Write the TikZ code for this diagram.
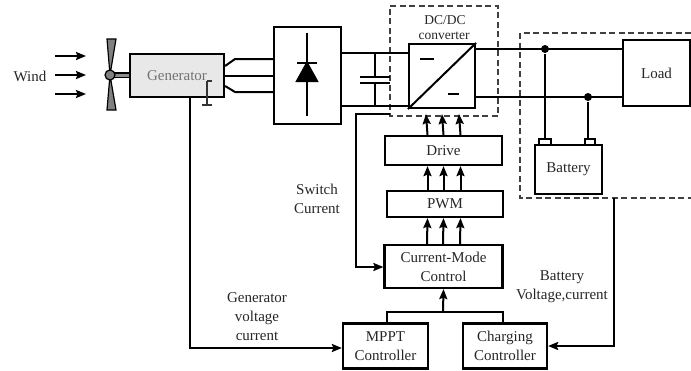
\documentclass[tikz,border=0pt]{standalone}
\usepackage{fontspec}
\setmainfont{Liberation Serif}
\usetikzlibrary{arrows.meta}
\begin{document}
\begin{tikzpicture}[x=1pt, y=-1pt, >={Stealth[length=10pt,width=8pt,inset=1.5pt]}, line width=2pt,
    main/.style = {draw, line width=2.2pt, rectangle, inner sep=0pt, align=center, text=black!85, font=\fontsize{15}{19}\selectfont},
    label/.style = {inner sep=0pt, align=center, text=black!85, font=\fontsize{15}{19}\selectfont},
    small/.style = {inner sep=0pt, align=center, text=black!85, font=\fontsize{13.5}{16}\selectfont},
    frame/.style = {dash pattern=on 6pt off 3.5pt, line width=1.3pt, draw=black!75},
    dot/.style = {circle, fill=black, inner sep=0pt, minimum size=8pt}]
    \useasboundingbox (0,0) rectangle (691,370);
    % dashed frames
    \draw[frame] (390,6) -- (498,6) -- (498,116) -- (390,116) -- cycle;
    \draw[frame] (691,33) -- (520,33) -- (520,198) -- (691,198);
    % wind and fan
    \node[label] (wind) at (30,76) {Wind};
    \foreach \y in {56,75,94}
        \draw[->] (55,\y) -- (86,\y);
    \node[main, fill=black!9, minimum width=94pt, minimum height=43pt, text=black!55] (gen) at (177,75.5) {Generator};
    \coordinate (hub) at (110,75);
    \draw[fill=black!50, line width=1.2pt] (hub) -- (107,39) -- (116,39) -- cycle;
    \draw[fill=black!50, line width=1.2pt] (hub) -- (107,110) -- (116,110) -- cycle;
    \draw[fill=black!45, line width=1.2pt] (110,73) rectangle (130,77.5);
    \node[circle, draw, fill=black!50, line width=1.2pt, inner sep=0pt, minimum size=10pt] (fan) at (hub) {};
    \draw[line width=1.2pt, black!80] (207,81) -- (212,81) (207,81) -- (207,105) (202,105) -- (212,105);
    % power path
    \node[main, minimum width=67pt, minimum height=97pt] (rect) at (307.5,75.5) {};
    \node[main, minimum width=66pt, minimum height=64pt] (conv) at (442,76) {};
    \node[main, minimum width=67pt, minimum height=66pt] (load) at (656.5,73) {Load};
    \node[main, minimum width=67pt, minimum height=49pt] (batt) at (568.5,169.5) {Battery};
    \node[small] (dcdc) at (445,20) {DC/DC};
    \node[small] (convtext) at (444,36) {converter};
    \draw ([yshift=9.5pt]gen.east) -- (235,59) -- ([yshift=16.5pt]rect.west);
    \draw (gen.east) -- (rect.west);
    \draw ([yshift=-10.5pt]gen.east) -- (235,92) -- ([yshift=-16.5pt]rect.west);
    \draw (307,33) -- (307,116);
    \draw[fill=black] (307,63) -- (317,81) -- (297,81) -- cycle;
    \draw (297,63) -- (317,63);
    \draw ([yshift=22.5pt]rect.east) -- ([yshift=23pt]conv.west);
    \draw ([yshift=-30.5pt]rect.east) -- ([yshift=-30pt]conv.west);
    \draw (375,53) -- (375,76) (360,77) -- (390,77) (360,83) -- (390,83) (375,84) -- (375,106);
    \draw (conv.south west) -- (conv.north east);
    \draw (420,59) -- (434,59) (448,94) -- (459,94);
    \draw ([yshift=27pt]conv.east) -- ([yshift=24pt]load.west);
    \draw ([yshift=-21pt]conv.east) -- ([yshift=-24pt]load.west);
    \node[dot] (d1) at (545,49) {};
    \node[dot] (d2) at (588,97) {};
    \node[draw, line width=1.5pt, minimum width=12pt, minimum height=6pt, inner sep=0pt] (t1) at (545,142) {};
    \node[draw, line width=1.5pt, minimum width=10pt, minimum height=6pt, inner sep=0pt] (t2) at (590,142) {};
    \draw (d1) -- (t1);
    \draw (d2) -- (d2 |- t2.north);
    % control blocks
    \node[main, minimum width=117pt, minimum height=29pt] (drive) at (443.5,150.5) {Drive};
    \node[main, minimum width=116pt, minimum height=26pt] (pwm) at (445,204) {PWM};
    \node[main, minimum width=118pt, minimum height=43pt] (cmc) at (443.5,266.5) {Current-Mode\\Control};
    \node[main, minimum width=85pt, minimum height=45pt] (mppt) at (385.5,346) {MPPT\\Controller};
    \node[main, minimum width=84pt, minimum height=45pt] (chg) at (505,346) {Charging\\Controller};
    \foreach \s in {-16,0,17} {
        \draw[->] ([xshift=\s pt]drive.north) -- ([xshift=\s pt, yshift=-5pt]conv.south);
        \draw[->] ([xshift=\s pt-1.5pt]pwm.north) -- ([xshift=\s pt]drive.south);
        \draw[->] ([xshift=\s pt-.5pt]cmc.north) -- ([xshift=\s pt-1.5pt]pwm.south);
    }
    % feedback lines
    \coordinate (sw) at (390,114);
    \draw[->] (sw) -- (356,114) -- (356,267) -- (cmc.west |- 0,267);
    \draw[->] (190,97) -- (190,348) -- (mppt.west |- 0,348);
    \draw[->] (614,198) -- (614,346) -- (chg.east |- 0,346);
    \draw ([xshift=1.5pt]mppt.north) -- (387,312) -- (503,312) -- (503,323.5);
    \draw[->] (443,312) -- (cmc.south);
    % labels
    \node[label] (switch) at (317,199) {Switch\\Current};
    \node[label] (genv) at (257,316.5) {Generator\\voltage\\current};
    \node[label] (battv) at (562,286.5) {Battery\\Voltage,current};
\end{tikzpicture}
\end{document}
